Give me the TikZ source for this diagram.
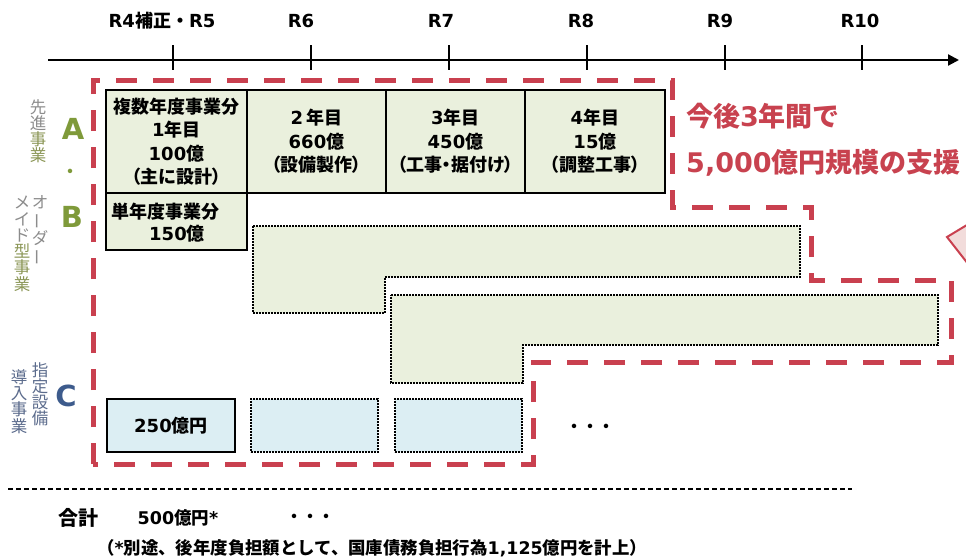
\documentclass[tikz,border=0pt]{standalone}
\usepackage{fontspec}
\usepackage{graphicx}
\setmainfont{Noto Sans CJK JP}[RawFeature=+palt]
\newfontfamily\jpfull{Noto Sans CJK JP}
\newfontfamily\lt{DejaVu Sans}
\newcommand\LT[1]{{\lt #1}}
\newcommand\vbar{\rotatebox[origin=c]{90}{ー}}
\usetikzlibrary{arrows.meta}
\definecolor{gfill}{HTML}{EAF0DD}
\definecolor{bfill}{HTML}{DCEEF3}
\definecolor{rdash}{HTML}{C9404F}
\definecolor{rtext}{HTML}{C8424F}
\definecolor{pinkfill}{HTML}{F2DCDB}
\definecolor{olive}{HTML}{7F9A3A}
\definecolor{cblue}{HTML}{3D5B8C}
\definecolor{lgrey}{HTML}{8C8C8C}
\definecolor{lolive}{HTML}{8B9656}
\definecolor{lblue}{HTML}{5B6B8C}
\tikzset{
  axislbl/.style={font=\jpfull\bfseries\fontsize{18}{18}\selectfont, inner sep=0},
  gbox/.style={draw=black, line width=1.6pt, fill=gfill, inner sep=0, align=center, font=\bfseries\fontsize{18}{23.5}\selectfont},
  bbox/.style={draw=black, line width=1.6pt, fill=bfill, inner sep=0, align=center, font=\bfseries\fontsize{18}{23.5}\selectfont},
  dotbox/.style={draw=black, line width=1.6pt, dash pattern=on 1.6pt off 1.4pt},
  reddash/.style={draw=rdash, line width=5pt, dash pattern=on 21pt off 16pt},
  vlab/.style={align=center, inner sep=0, font=\jpfull\fontsize{16.5}{16.3}\selectfont},
  bigletter/.style={inner sep=0, font=\lt\bfseries\fontsize{29}{29}\selectfont},
  txt/.style={inner sep=0, font=\bfseries\fontsize{18}{23.5}\selectfont},
  redtxt/.style={anchor=west, inner sep=0, text=rtext, font=\jpfull\bfseries\fontsize{27}{27}\selectfont},
}
\begin{document}
\begin{tikzpicture}[x=1pt,y=-1pt]
\useasboundingbox (0,0) rectangle (966,558);
\clip (0,0) rectangle (966,558);
% axis
\coordinate (a0) at (48,60);
\coordinate (a1) at (959,60);
\draw[line width=2.2pt, -{Triangle[length=11pt,width=11pt]}] (a0) -- (a1);
\foreach \x in {173,311,449,587,725,862}{
  \draw[line width=2.2pt] (\x,45) -- (\x,70);
}
\node[axislbl] (t1) at (162,21) {\LT{R4}補正・\LT{R5}};
\node[axislbl] (t2) at (301,21) {\LT{R6}};
\node[axislbl] (t3) at (441,21) {\LT{R7}};
\node[axislbl] (t4) at (581,21) {\LT{R8}};
\node[axislbl] (t5) at (720,21) {\LT{R9}};
\node[axislbl] (t6) at (860,21) {\LT{R10}};
% table A
\node[gbox, minimum width=141pt, minimum height=103pt] (b1) at (176.5,141.5)
  {複数年度事業分\\\LT{1}年目\\\LT{100}億\\（主に設計）};
\node[gbox, minimum width=139pt, minimum height=103pt] (b2) at (316.5,141.5)
  {\LT{2}\,年目\\\LT{660}億\\（設備製作）};
\node[gbox, minimum width=139pt, minimum height=103pt] (b3) at (455.5,141.5)
  {\LT{3}年目\\\LT{450}億\\（工事・据付け）};
\node[gbox, minimum width=140pt, minimum height=103pt] (b4) at (595,141.5)
  {\LT{4}年目\\\LT{15}億\\（調整工事）};
\node[gbox, minimum width=141pt, minimum height=57pt] (b5) at (176.5,221.5) {};
\node[txt, anchor=west] (b5a) at (111,212) {単年度事業分};
\node[txt] (b5b) at (177,234) {\LT{150}億};
% B dotted shapes
\draw[dotbox, fill=gfill] (253,226) -- (800,226) -- (800,277) -- (385,277) -- (385,313) -- (253,313) -- cycle;
\draw[dotbox, fill=gfill] (391,295) -- (938,295) -- (938,345) -- (523,345) -- (523,383) -- (391,383) -- cycle;
% C row
\node[bbox, minimum width=128pt, minimum height=53pt] (c1) at (171,425.5) {\LT{250}億円};
\node[dotbox, fill=bfill, minimum width=127pt, minimum height=53pt] (c2) at (314.5,425.5) {};
\node[dotbox, fill=bfill, minimum width=127pt, minimum height=53pt] (c3) at (458.5,425.5) {};
\node[inner sep=0, font=\jpfull\bfseries\fontsize{16}{16}\selectfont] (dots1) at (590,428) {・・・};
% red dashed boundary
\draw[reddash] (93,464) -- (93,80) -- (672,80) -- (672,207) -- (811,207) -- (811,280) -- (951,280) -- (951,362) -- (533,362) -- (533,464) -- cycle;
% red text
\node[redtxt] (r1) at (686,116) {今後\LT{3}年間で};
\node[redtxt] (r2) at (686,163) {\LT{5,000}億円規模の支援};
% callout tip
\filldraw[fill=pinkfill, draw=rdash, line width=2pt] (947,237) -- (990,211) -- (990,292) -- cycle;
% left labels
\node[bigletter, text=olive] (LA) at (73,129) {A};
\node[inner sep=0, text=olive, font=\jpfull\bfseries\fontsize{16}{16}\selectfont] (Ldot) at (70,173) {・};
\node[bigletter, text=olive] (LB) at (72,217) {B};
\node[bigletter, text=cblue] (LC) at (66,396) {C};
\node[vlab, anchor=north] (v1) at (38,99) {\textcolor{lgrey}{先}\\\textcolor{lgrey}{進}\\\textcolor{lolive}{事}\\\textcolor{lolive}{業}};
\node[vlab, anchor=north] (v2) at (40,195) {\textcolor{lgrey}{オ}\\\textcolor{lgrey}{\vbar}\\\textcolor{lgrey}{ダ}\\\textcolor{lgrey}{\vbar}};
\node[vlab, anchor=north] (v3) at (22,196) {\textcolor{lgrey}{メ}\\\textcolor{lgrey}{イ}\\\textcolor{lgrey}{ド}\\\textcolor{lolive}{型}\\\textcolor{lolive}{事}\\\textcolor{lolive}{業}};
\node[vlab, anchor=north, text=lblue] (v4) at (40,362) {指\\定\\設\\備};
\node[vlab, anchor=north, text=lblue] (v5) at (19,369) {導\\入\\事\\業};
% separator
\coordinate (s0) at (8,489);
\coordinate (s1) at (852,489);
\draw[line width=1.3pt, dash pattern=on 5pt off 3pt] (s0) -- (s1);
% totals
\node[inner sep=0, font=\bfseries\fontsize{20}{20}\selectfont] (g1) at (78,518) {合計};
\node[inner sep=0, font=\bfseries\fontsize{17.5}{17.5}\selectfont] (g2) at (178,518) {\LT{500}億円\LT{*}};
\node[inner sep=0, font=\jpfull\bfseries\fontsize{16}{16}\selectfont] (g3) at (310,518) {・・・};
\node[anchor=west, inner sep=0, font=\jpfull\bfseries\fontsize{17.4}{17.4}\selectfont] (g4) at (97,548) {（\LT{*}別途、後年度負担額として、国庫債務負担行為\LT{1,125}億円を計上）};
\end{tikzpicture}
\end{document}
